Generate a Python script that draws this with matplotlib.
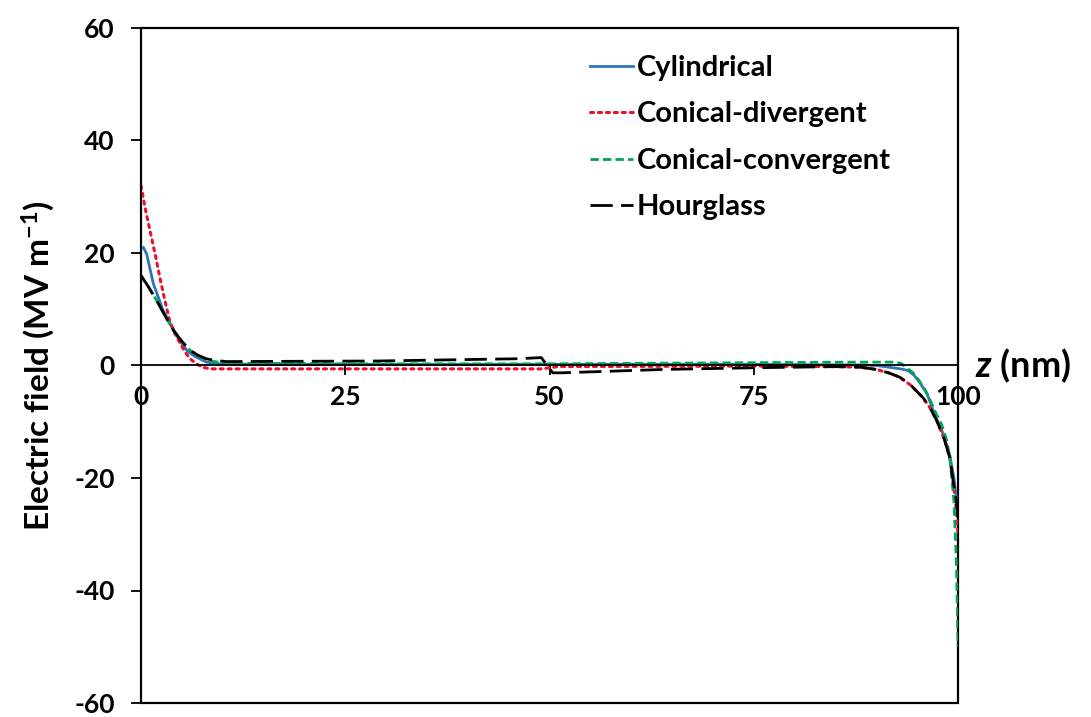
import matplotlib
matplotlib.use("Agg")
import matplotlib.pyplot as plt
import matplotlib.transforms as mtransforms

plt.rcParams["font.family"] = ["Lato", "DejaVu Sans"]
plt.rcParams["font.weight"] = "bold"
plt.rcParams["axes.unicode_minus"] = False
plt.rcParams["mathtext.fontset"] = "custom"
plt.rcParams["mathtext.rm"] = "Lato:bold"
plt.rcParams["mathtext.it"] = "Lato:bold:italic"
plt.rcParams["mathtext.bf"] = "Lato:bold"

# values
z_cyl = [0, 0.3, 0.7, 1.5, 2.1, 2.7, 3.8, 4.5, 5.6, 6.5, 8, 9.5, 11, 25, 50, 75, 88, 90, 91, 92, 93, 93.9,
         94.6, 95.3, 96.2, 97.2, 98, 99, 99.5, 100]
e_cyl = [20.8, 21.0, 19.8, 14.6, 12.2, 9.8, 6.8, 5.0, 2.7, 1.7, 0.6, 0.3, 0.2, 0.2, 0.2, 0.2, 0.1, 0.0, -0.2,
         -0.4, -0.6, -0.9, -1.7, -3.0, -5.0, -8.9, -11.5, -16.0, -20.0, -26.0]

z_div = [0, 0.5, 1.1, 1.7, 2.3, 2.9, 3.5, 4.1, 4.8, 5.4, 6, 6.7, 7.5, 8.5, 25, 49, 51, 75, 85, 88, 90, 91.5,
         92.9, 94.3, 95.7, 96.6, 97.4, 98.3, 99, 99.4, 99.8, 100]
e_div = [32.0, 28.0, 24.0, 20.0, 15.7, 11.7, 8.0, 5.8, 3.9, 2.4, 1.2, 0.4, -0.3, -0.6, -0.6, -0.6, -0.2, -0.1,
         -0.2, -0.3, -0.7, -1.3, -2.1, -3.6, -5.7, -7.6, -9.8, -13.0, -16.4, -20.5, -26.0, -30.0]

z_con = [0, 0.9, 1.9, 3, 4, 5, 6, 7, 8, 9, 10.5, 25, 50, 75, 88, 92, 93, 93.8, 94.5, 95.2, 96, 96.6, 97.3,
         98, 98.6, 99, 99.5, 99.8, 100]
e_con = [16.0, 14.0, 11.6, 8.7, 6.2, 4.3, 2.7, 1.8, 1.0, 0.7, 0.4, 0.3, 0.3, 0.5, 0.6, 0.6, 0.4, -0.5, -1.3,
         -2.6, -4.4, -6.2, -8.5, -10.5, -13.2, -16.4, -24.0, -35.0, -50.0]

z_hg = [0, 0.9, 1.9, 3, 4, 5, 6, 7, 8, 9, 10.5, 29, 46, 49, 50.4, 51.5, 64, 75, 85, 88, 90, 91.5, 92.9,
        94.3, 95.7, 96.6, 97.4, 98.3, 99, 99.4, 99.8, 100]
e_hg = [16.0, 14.0, 11.6, 8.7, 6.2, 4.3, 2.7, 1.8, 1.2, 0.9, 0.7, 0.8, 1.2, 1.4, -1.3, -1.3, -0.7, -0.4,
        -0.2, -0.3, -0.7, -1.3, -2.1, -3.6, -5.7, -7.6, -9.8, -13.0, -16.4, -20.5, -24.0, -27.0]

x_ticks = [0, 25, 50, 75, 100]
y_ticks = [-60, -40, -20, 0, 20, 40, 60]

fig = plt.figure(figsize=(10.91, 7.17), dpi=100)
ax = fig.add_axes([141 / 1091, 1 - 703 / 717, 817 / 1091, 675 / 717])

ax.plot(z_cyl, e_cyl, color="#2E75B6", lw=2.0, label="Cylindrical")
ax.plot(z_div, e_div, color="#E8112D", lw=2.2, linestyle=(0, (1, 1.6)),
        dash_capstyle="round", label="Conical-divergent")
ax.plot(z_con, e_con, color="#00A651", lw=2.0, linestyle=(0, (3, 1.5)), label="Conical-convergent")
ax.plot(z_hg, e_hg, color="black", lw=2.0, linestyle=(0, (8, 3)), label="Hourglass")

ax.set_xlim(0, 100)
ax.set_ylim(-60, 60)
ax.set_xticks(x_ticks)
ax.set_yticks(y_ticks)

for side in ["top", "right"]:
    ax.spines[side].set_visible(False)
ax.spines["bottom"].set_position(("data", 0))
ax.spines["bottom"].set_linewidth(1.3)
ax.spines["left"].set_linewidth(1.3)
ax.patch.set_edgecolor("black")
ax.patch.set_linewidth(1.6)

ax.tick_params(axis="both", direction="out", length=7, width=1.3, labelsize=19)
ax.tick_params(axis="x", pad=7)
ax.tick_params(axis="y", pad=12)
for lab in ax.get_xticklabels() + ax.get_yticklabels():
    lab.set_fontweight("bold")

ax.set_ylabel("Electric field (MV m$^{-1}$)", fontsize=24, fontweight="bold", labelpad=12)

trans = mtransforms.blended_transform_factory(ax.transAxes, ax.transData)
ax.text(1.021, 0, "$z$ (nm)", transform=trans, fontsize=26, fontweight="bold",
        ha="left", va="center")

ax.legend(loc="upper left", bbox_to_anchor=(0.55, 0.96), frameon=False, fontsize=21,
          handlelength=1.45, handletextpad=0.15, labelspacing=0.7, borderpad=0, borderaxespad=0)

fig.savefig("out.png", dpi=100)
